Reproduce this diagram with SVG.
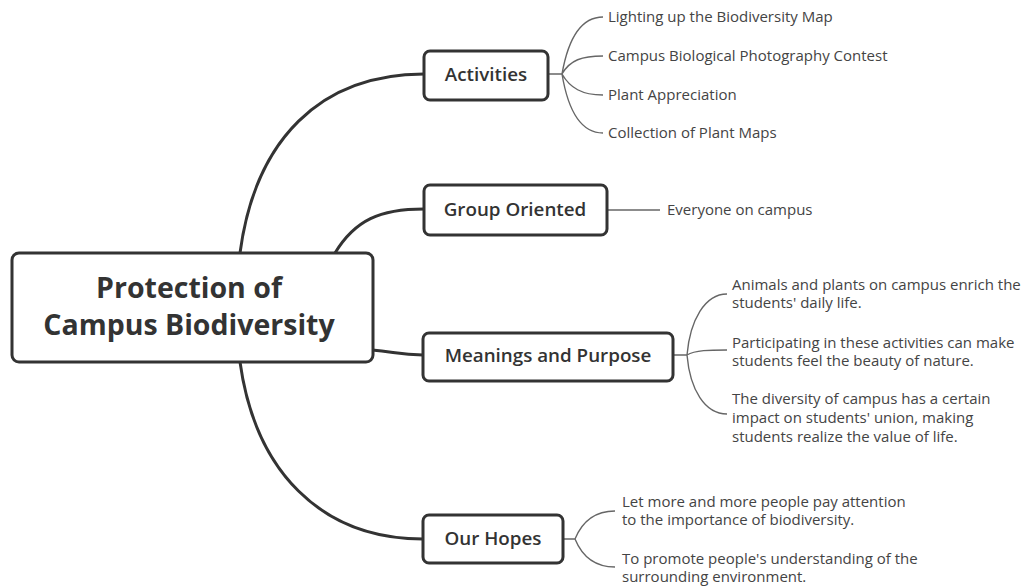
<svg xmlns="http://www.w3.org/2000/svg" width="1027" height="586" viewBox="0 0 1027 586">
<style>
.box{fill:#fff;stroke:#333;stroke-width:3}
.main{fill:none;stroke:#333;stroke-width:3}
.leafc{fill:none;stroke:#666;stroke-width:1.4}
.root{font-family:"Open Sans","Liberation Sans",sans-serif;font-weight:700;font-size:28.5px;fill:#333;text-anchor:middle}
.mid{font-family:"Open Sans","Liberation Sans",sans-serif;font-weight:600;font-size:18.8px;fill:#333;text-anchor:middle}
.leaf{font-family:"Open Sans","Liberation Sans",sans-serif;font-size:15px;fill:#444}
</style>
<rect width="1027" height="586" fill="#fff"/>
<g id="connectors">
<path class="main" d="M240,253 C255,140 320,74 424,74"/>
<path class="main" d="M335,253 C355,220 380,209 424,209"/>
<path class="main" d="M372,350 C395,352 400,355 423,355"/>
<path class="main" d="M240,362 C255,470 320,539 423,539"/>
<path class="leafc" d="M548,74 H562 M562,74 C568,40 580,17 603,17 M562,74 C570,60 582,56 603,56 M562,74 C570,88 582,95 603,95 M562,74 C568,110 580,133 603,133"/>
<path class="leafc" d="M607,210 H660"/>
<path class="leafc" d="M673,355 H687 M687,355 C690,320 705,294 727,294 M687,355 C695,350 710,350 727,350 M687,355 C690,390 705,414 727,414"/>
<path class="leafc" d="M563,539 H575 M575,539 C582,522 595,511 615,511 M575,539 C582,556 595,567 615,567"/>
</g>
<g id="root">
<rect class="box" x="12" y="253" width="361" height="109" rx="7"/>
<text class="root" x="189" y="298">Protection of</text>
<text class="root" x="189" y="335">Campus Biodiversity</text>
</g>
<g id="activities">
<rect class="box" x="424" y="51" width="124" height="49" rx="6"/>
<text class="mid" x="486" y="81">Activities</text>
</g>
<g id="group">
<rect class="box" x="424" y="185" width="183" height="50" rx="6"/>
<text class="mid" x="515" y="216">Group Oriented</text>
</g>
<g id="meanings">
<rect class="box" x="423" y="333" width="250" height="48" rx="6"/>
<text class="mid" x="548" y="362">Meanings and Purpose</text>
</g>
<g id="hopes">
<rect class="box" x="423" y="515" width="140" height="48" rx="6"/>
<text class="mid" x="493" y="545">Our Hopes</text>
</g>
<g id="leaves">
<text class="leaf" x="608" y="22">Lighting up the Biodiversity Map</text>
<text class="leaf" x="608" y="61">Campus Biological Photography Contest</text>
<text class="leaf" x="608" y="100">Plant Appreciation</text>
<text class="leaf" x="608" y="138">Collection of Plant Maps</text>
<text class="leaf" x="667" y="215">Everyone on campus</text>
<text class="leaf" x="732" y="290">Animals and plants on campus enrich the</text>
<text class="leaf" x="732" y="308">students' daily life.</text>
<text class="leaf" x="732" y="348">Participating in these activities can make</text>
<text class="leaf" x="732" y="366">students feel the beauty of nature.</text>
<text class="leaf" x="732" y="404">The diversity of campus has a certain</text>
<text class="leaf" x="732" y="423">impact on students' union, making</text>
<text class="leaf" x="732" y="442">students realize the value of life.</text>
<text class="leaf" x="622" y="507">Let more and more people pay attention</text>
<text class="leaf" x="622" y="525">to the importance of biodiversity.</text>
<text class="leaf" x="622" y="564">To promote people's understanding of the</text>
<text class="leaf" x="622" y="582">surrounding environment.</text>
</g>
</svg>
